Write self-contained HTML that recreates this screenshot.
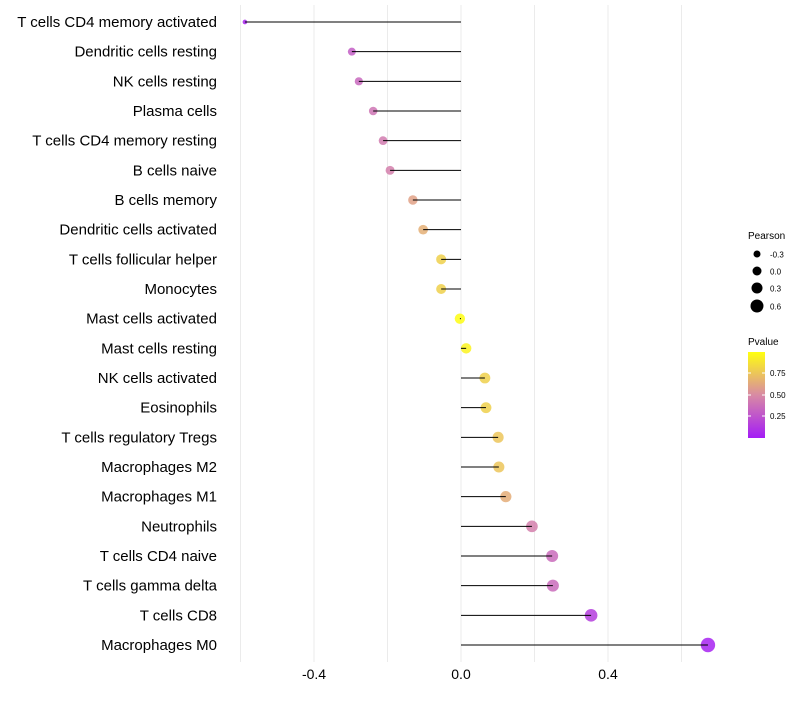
<!DOCTYPE html>
<html><head><meta charset="utf-8"><style>
body{margin:0;background:#fff;font-family:"Liberation Sans",sans-serif;}
svg text{font-family:"Liberation Sans",sans-serif;}
</style></head><body>
<svg id="chart" width="800" height="700" xmlns="http://www.w3.org/2000/svg">
<defs><linearGradient id="pg" x1="0" y1="1" x2="0" y2="0">
<stop offset="0" stop-color="#a41cf6"/><stop offset="0.5" stop-color="#d88aa4"/><stop offset="1" stop-color="#ffff10"/>
</linearGradient></defs>
<g id="grid"></g><g id="points"></g><g id="stems"></g><g id="labels"></g>
<g>
<text x="748" y="239" font-size="10" fill="#000">Pearson</text>
<circle cx="757" cy="254" r="3.5" fill="#000"/><text x="770" y="257.5" font-size="8">-0.3</text>
<circle cx="757" cy="271" r="4.5" fill="#000"/><text x="770" y="274.5" font-size="8">0.0</text>
<circle cx="757" cy="288" r="5.5" fill="#000"/><text x="770" y="291.5" font-size="8">0.3</text>
<circle cx="757" cy="306" r="6.5" fill="#000"/><text x="770" y="309.5" font-size="8">0.6</text>
</g>
<g>
<text x="748" y="345" font-size="10" fill="#000">Pvalue</text>
<rect x="748" y="352" width="17" height="86" fill="url(#pg)"/>
<line x1="748" x2="751" y1="373" y2="373" stroke="#fff"/><line x1="762" x2="765" y1="373" y2="373" stroke="#fff"/>
<line x1="748" x2="751" y1="395" y2="395" stroke="#fff"/><line x1="762" x2="765" y1="395" y2="395" stroke="#fff"/>
<line x1="748" x2="751" y1="416" y2="416" stroke="#fff"/><line x1="762" x2="765" y1="416" y2="416" stroke="#fff"/>
<text x="770" y="376" font-size="8">0.75</text>
<text x="770" y="398" font-size="8">0.50</text>
<text x="770" y="419" font-size="8">0.25</text>
</g>
</svg>
<script>
const categories=["T cells CD4 memory activated","Dendritic cells resting","NK cells resting","Plasma cells","T cells CD4 memory resting","B cells naive","B cells memory","Dendritic cells activated","T cells follicular helper","Monocytes","Mast cells activated","Mast cells resting","NK cells activated","Eosinophils","T cells regulatory  Tregs ","Macrophages M2","Macrophages M1","Neutrophils","T cells CD4 naive","T cells gamma delta","T cells CD8","Macrophages M0"];
const pearson=[-0.588,-0.297,-0.278,-0.239,-0.212,-0.193,-0.131,-0.103,-0.054,-0.054,-0.003,0.014,0.065,0.068,0.101,0.103,0.122,0.193,0.248,0.250,0.354,0.672];
const pvalue=[0.04,0.3,0.35,0.4,0.43,0.45,0.6,0.66,0.8,0.8,0.99,0.95,0.8,0.8,0.75,0.75,0.65,0.45,0.36,0.36,0.15,0.03];
const xTicks=[-0.4,0.0,0.4];
const xGrid=[-0.6,-0.4,-0.2,0,0.2,0.4,0.6];
const NS="http://www.w3.org/2000/svg";
const x=v=>461+v*367.5;
const y=i=>22+i*(623/21);
const r=v=>Math.sqrt(Math.max(2,27+36.7*v));
function col(p){const s=[[164,28,246],[216,138,164],[255,255,16]];let t=Math.max(0,Math.min(1,p))*2;let i=t>=1?1:0;t-=i;const a=s[i],b=s[i+1];return `rgb(${a.map((c,k)=>Math.round(c+(b[k]-c)*t)).join(',')})`;}
function mk(tag,attrs,parent){const e=document.createElementNS(NS,tag);for(const k in attrs)e.setAttribute(k,attrs[k]);parent.appendChild(e);return e;}
const grid=document.getElementById('grid'),points=document.getElementById('points'),stems=document.getElementById('stems'),labels=document.getElementById('labels');
xGrid.forEach(v=>{const l=mk('line',{x1:x(v),x2:x(v),y1:5,y2:662,stroke:'#ebebeb','stroke-width':1},grid);

});
xTicks.forEach(v=>{const t=mk('text',{x:x(v),y:679,'font-size':14,'text-anchor':'middle',fill:'#000'},labels);t.textContent=v.toFixed(1);

});
categories.forEach((c,i)=>{
const t=mk('text',{x:217,y:y(i)+5,'font-size':15,'text-anchor':'end',fill:'#000'},labels);t.textContent=c;


const p=mk('circle',{cx:x(pearson[i]),cy:y(i),r:r(pearson[i]),fill:col(pvalue[i]),'fill-opacity':0.85},points);


const l=mk('line',{x1:x(0),x2:x(pearson[i]),y1:y(i),y2:y(i),stroke:'#000','stroke-width':1},stems);


});
</script>
</body></html>
